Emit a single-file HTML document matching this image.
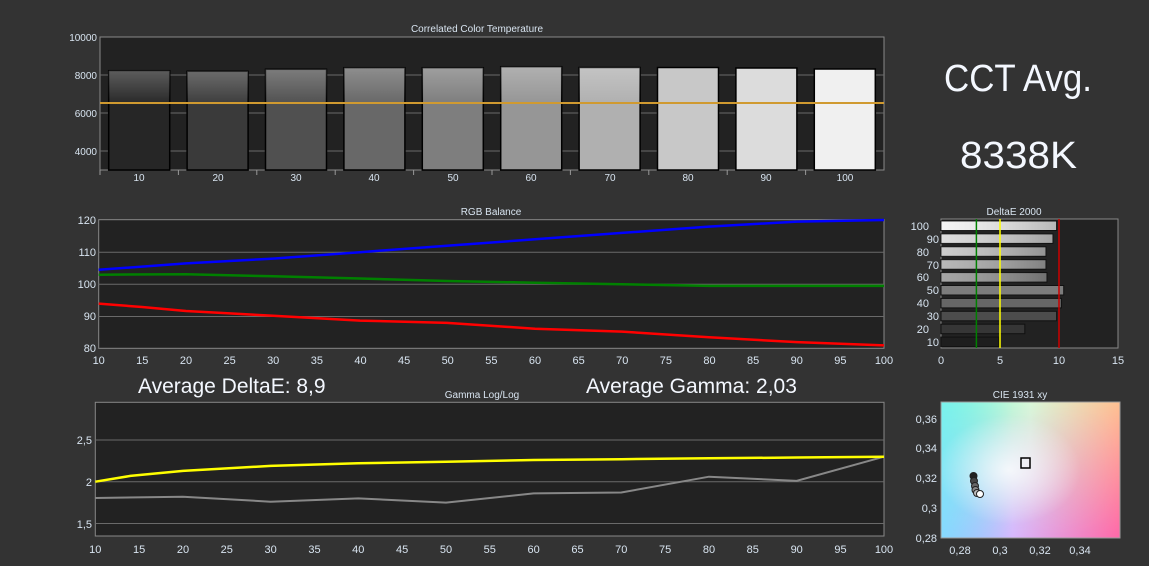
<!DOCTYPE html>
<html><head><meta charset="utf-8"><style>
html,body{margin:0;padding:0;background:#333;}
svg{display:block;font-family:"Liberation Sans",sans-serif;}
.t{fill:#d8e4f0;font-size:11px;}
.ti{fill:#d8e4f0;font-size:10px;}
.g{stroke:#6a6a6a;stroke-width:1;}
</style></head><body>
<svg width="1149" height="566" viewBox="0 0 1149 566">
<defs>
<linearGradient id="bg1" x1="0" y1="0" x2="0" y2="1"><stop offset="0" stop-color="#fff" stop-opacity=".25"/><stop offset=".35" stop-color="#fff" stop-opacity="0"/></linearGradient>
<linearGradient id="db" x1="0" y1="0" x2="1" y2="0"><stop offset="0" stop-color="#fff" stop-opacity=".15"/><stop offset="1" stop-color="#000" stop-opacity=".25"/></linearGradient>
<linearGradient id="cieH" x1="0" y1="0" x2="1" y2="0"><stop offset="0" stop-color="#6ef5d0"/><stop offset=".5" stop-color="#d8f8d8"/><stop offset="1" stop-color="#ffc090"/></linearGradient>
<linearGradient id="cieB" x1="0" y1="0" x2="1" y2="0"><stop offset="0" stop-color="#90b8ff"/><stop offset=".4" stop-color="#d8b8ff"/><stop offset="1" stop-color="#ff68a8"/></linearGradient>
<linearGradient id="cieV" x1="0" y1="0" x2="0" y2="1"><stop offset="0" stop-color="#fff"/><stop offset="1" stop-color="#000"/></linearGradient>
<mask id="cm"><rect x="941" y="402" width="179" height="136" fill="url(#cieV)"/></mask>
<radialGradient id="cw" cx=".38" cy=".5" r=".4"><stop offset="0" stop-color="#fff" stop-opacity=".8"/><stop offset="1" stop-color="#fff" stop-opacity="0"/></radialGradient>
<linearGradient id="cl" x1="0" y1="0" x2="1" y2="0"><stop offset="0" stop-color="#80f0ff" stop-opacity=".6"/><stop offset=".4" stop-color="#80f0ff" stop-opacity="0"/></linearGradient>
</defs>

<!-- CCT -->
<text x="477" y="32" class="ti" text-anchor="middle">Correlated Color Temperature</text>
<rect x="100" y="37" width="784" height="133" fill="#222" stroke="#888"/>
<g class="g"><line x1="100" y1="75" x2="884" y2="75"/><line x1="100" y1="113" x2="884" y2="113"/><line x1="100" y1="151" x2="884" y2="151"/></g>
<g stroke="#000" stroke-width="1.5">
<rect x="108.7" y="70.7" width="61" height="99.3" fill="#262626"/>
<rect x="187.1" y="71.3" width="61" height="98.7" fill="#3a3a3a"/>
<rect x="265.5" y="69.3" width="61" height="100.7" fill="#505050"/>
<rect x="343.9" y="67.7" width="61" height="102.3" fill="#686868"/>
<rect x="422.3" y="67.7" width="61" height="102.3" fill="#7e7e7e"/>
<rect x="500.7" y="66.7" width="61" height="103.3" fill="#969696"/>
<rect x="579.1" y="67.5" width="61" height="102.5" fill="#b0b0b0"/>
<rect x="657.5" y="67.5" width="61" height="102.5" fill="#c8c8c8"/>
<rect x="735.9" y="68" width="61" height="102" fill="#dcdcdc"/>
<rect x="814.3" y="69" width="61" height="101" fill="#f0f0f0"/>
</g>
<g fill="url(#bg1)">
<rect x="108.7" y="70.7" width="61" height="99.3"/><rect x="187.1" y="71.3" width="61" height="98.7"/><rect x="265.5" y="69.3" width="61" height="100.7"/><rect x="343.9" y="67.7" width="61" height="102.3"/><rect x="422.3" y="67.7" width="61" height="102.3"/><rect x="500.7" y="66.7" width="61" height="103.3"/><rect x="579.1" y="67.5" width="61" height="102.5"/>
</g>
<line x1="100" y1="103" x2="884" y2="103" stroke="#d09a30" stroke-width="2"/>
<g class="ti" text-anchor="end"><text x="97" y="41">10000</text><text x="97" y="79">8000</text><text x="97" y="117">6000</text><text x="97" y="155">4000</text></g>
<g stroke="#999"><line x1="100" y1="170" x2="100" y2="175"/><line x1="178.4" y1="170" x2="178.4" y2="175"/><line x1="256.8" y1="170" x2="256.8" y2="175"/><line x1="335.2" y1="170" x2="335.2" y2="175"/><line x1="413.6" y1="170" x2="413.6" y2="175"/><line x1="492" y1="170" x2="492" y2="175"/><line x1="570.4" y1="170" x2="570.4" y2="175"/><line x1="648.8" y1="170" x2="648.8" y2="175"/><line x1="727.2" y1="170" x2="727.2" y2="175"/><line x1="805.6" y1="170" x2="805.6" y2="175"/></g>
<g class="ti" text-anchor="middle"><text x="139" y="181">10</text><text x="218" y="181">20</text><text x="296" y="181">30</text><text x="374" y="181">40</text><text x="453" y="181">50</text><text x="531" y="181">60</text><text x="610" y="181">70</text><text x="688" y="181">80</text><text x="766" y="181">90</text><text x="845" y="181">100</text></g>

<text x="944" y="91" fill="#f4f8ff" font-size="38" textLength="148" lengthAdjust="spacingAndGlyphs">CCT Avg.</text>
<text x="960" y="168" fill="#f4f8ff" font-size="38" textLength="117" lengthAdjust="spacingAndGlyphs">8338K</text>

<!-- RGB -->
<text x="491" y="215" class="ti" text-anchor="middle">RGB Balance</text>
<rect x="98.7" y="219.7" width="785.3" height="128.6" fill="#222" stroke="#888"/>
<g class="g"><line x1="98.7" y1="252.3" x2="884" y2="252.3"/><line x1="98.7" y1="284.3" x2="884" y2="284.3"/><line x1="98.7" y1="316.5" x2="884" y2="316.5"/></g>
<g class="t" text-anchor="end"><text x="96" y="224">120</text><text x="96" y="256">110</text><text x="96" y="288">100</text><text x="96" y="320">90</text><text x="96" y="352">80</text></g>
<polyline fill="none" stroke="#0000ff" stroke-width="2.5" points="98.7,269.8 186,263.4 273.2,258.6 360,252.2 447,245.7 535,239.3 622,232.9 709,226.6 797,221.6 884,220"/>
<polyline fill="none" stroke="#008000" stroke-width="2.5" points="98.7,274.7 186,274.2 273.2,276.3 360,278.5 447,281 535,282.7 622,284.3 709,285.9 797,285.9 884,285.9"/>
<polyline fill="none" stroke="#ff0000" stroke-width="2.5" points="98.7,303.6 142,307 186,311 273.2,315.8 360,320.6 447,322.9 535,328.7 622,331.6 709,337.3 797,342.1 884,345.4"/>
<g class="t" text-anchor="middle"><text x="98.7" y="364">10</text><text x="142.3" y="364">15</text><text x="186" y="364">20</text><text x="229.6" y="364">25</text><text x="273.2" y="364">30</text><text x="316.9" y="364">35</text><text x="360.5" y="364">40</text><text x="404.1" y="364">45</text><text x="447.7" y="364">50</text><text x="491.4" y="364">55</text><text x="535" y="364">60</text><text x="578.6" y="364">65</text><text x="622.3" y="364">70</text><text x="665.9" y="364">75</text><text x="709.5" y="364">80</text><text x="753.1" y="364">85</text><text x="796.8" y="364">90</text><text x="840.4" y="364">95</text><text x="884" y="364">100</text></g>

<!-- Averages -->
<text x="138" y="393" fill="#f4f8ff" font-size="21">Average DeltaE: 8,9</text>
<text x="586" y="393" fill="#f4f8ff" font-size="21">Average Gamma: 2,03</text>

<!-- Gamma -->
<text x="482" y="398" class="ti" text-anchor="middle">Gamma Log/Log</text>
<rect x="95.3" y="402.3" width="788.7" height="133.7" fill="#222" stroke="#888"/>
<g class="g"><line x1="95.3" y1="440" x2="884" y2="440"/><line x1="95.3" y1="481.7" x2="884" y2="481.7"/><line x1="95.3" y1="523.5" x2="884" y2="523.5"/></g>
<g class="t" text-anchor="end"><text x="92" y="444">2,5</text><text x="92" y="486">2</text><text x="92" y="528">1,5</text></g>
<polyline fill="none" stroke="#888" stroke-width="2" points="95.3,498 183,496.7 270.6,501.7 358.3,498.4 446,502.6 533.6,493.4 621.3,492.5 709,476.7 796.7,480.9 884,456.7"/>
<polyline fill="none" stroke="#ffff00" stroke-width="2.5" points="95.3,481.7 130.4,475.9 183,470.9 270.6,465.9 358.3,463.3 446,461.7 533.6,460 621.3,459.2 709,458.3 796.7,457.5 884,456.7"/>
<g class="t" text-anchor="middle"><text x="95.3" y="553">10</text><text x="139.1" y="553">15</text><text x="183" y="553">20</text><text x="226.8" y="553">25</text><text x="270.6" y="553">30</text><text x="314.5" y="553">35</text><text x="358.3" y="553">40</text><text x="402.1" y="553">45</text><text x="446" y="553">50</text><text x="489.8" y="553">55</text><text x="533.6" y="553">60</text><text x="577.5" y="553">65</text><text x="621.3" y="553">70</text><text x="665.1" y="553">75</text><text x="709" y="553">80</text><text x="752.8" y="553">85</text><text x="796.7" y="553">90</text><text x="840.5" y="553">95</text><text x="884" y="553">100</text></g>

<!-- DeltaE -->
<text x="1014" y="215" class="ti" text-anchor="middle">DeltaE 2000</text>
<rect x="941" y="219" width="177" height="129" fill="#222" stroke="#888"/>
<g stroke="#111" stroke-width="1">
<rect x="941" y="221" width="115.6" height="9.5" fill="#f4f4f4"/>
<rect x="941" y="233.9" width="112" height="9.5" fill="#d8d8d8"/>
<rect x="941" y="246.8" width="105" height="9.5" fill="#c4c4c4"/>
<rect x="941" y="259.7" width="105" height="9.5" fill="#acacac"/>
<rect x="941" y="272.6" width="106" height="9.5" fill="#969696"/>
<rect x="941" y="285.5" width="122.7" height="9.5" fill="#7c7c7c"/>
<rect x="941" y="298.4" width="120.4" height="9.5" fill="#666"/>
<rect x="941" y="311.3" width="115.6" height="9.5" fill="#4c4c4c"/>
<rect x="941" y="324.2" width="83.8" height="9.5" fill="#363636"/>
<rect x="941" y="337.1" width="57.8" height="9.5" fill="#1e1e1e"/>
</g>
<g fill="url(#db)"><rect x="941" y="221" width="115.6" height="9.5"/><rect x="941" y="233.9" width="112" height="9.5"/><rect x="941" y="246.8" width="105" height="9.5"/><rect x="941" y="259.7" width="105" height="9.5"/><rect x="941" y="272.6" width="106" height="9.5"/></g>
<line x1="976.4" y1="219" x2="976.4" y2="348" stroke="#008000" stroke-width="1.5"/>
<line x1="1000" y1="219" x2="1000" y2="348" stroke="#ffff00" stroke-width="1.5"/>
<line x1="1059" y1="219" x2="1059" y2="348" stroke="#cc0000" stroke-width="1.5"/>
<g class="t" text-anchor="end"><text x="929" y="230">100</text><text x="939" y="243">90</text><text x="929" y="256">80</text><text x="939" y="269">70</text><text x="929" y="281">60</text><text x="939" y="294">50</text><text x="929" y="307">40</text><text x="939" y="320">30</text><text x="929" y="333">20</text><text x="939" y="346">10</text></g>
<g class="t" text-anchor="middle"><text x="941" y="364">0</text><text x="1000" y="364">5</text><text x="1059" y="364">10</text><text x="1118" y="364">15</text></g>

<!-- CIE -->
<text x="1020" y="398" class="ti" text-anchor="middle">CIE 1931 xy</text>
<rect x="941" y="402" width="179" height="136" fill="url(#cieB)"/>
<rect x="941" y="402" width="179" height="136" fill="url(#cieH)" mask="url(#cm)"/>
<rect x="941" y="402" width="179" height="136" fill="url(#cl)"/>
<rect x="941" y="402" width="179" height="136" fill="url(#cw)"/>
<rect x="941" y="402" width="179" height="136" fill="none" stroke="#999"/>
<rect x="1021" y="458" width="9" height="10" fill="none" stroke="#000" stroke-width="1.5"/>
<g stroke="#222" stroke-width="1"><circle cx="973.5" cy="476" r="3.5" fill="#222"/><circle cx="974" cy="481" r="3.5" fill="#444"/><circle cx="975" cy="486" r="3.5" fill="#666"/><circle cx="975.5" cy="490" r="3.5" fill="#888"/><circle cx="977" cy="493" r="3.5" fill="#bbb"/><circle cx="980" cy="494" r="3.5" fill="#fff"/></g>
<g class="t" text-anchor="end"><text x="937" y="423">0,36</text><text x="937" y="452">0,34</text><text x="937" y="482">0,32</text><text x="937" y="512">0,3</text><text x="937" y="542">0,28</text></g>
<g class="t" text-anchor="middle"><text x="960" y="554">0,28</text><text x="1000" y="554">0,3</text><text x="1040" y="554">0,32</text><text x="1080" y="554">0,34</text></g>
</svg>
</body></html>
